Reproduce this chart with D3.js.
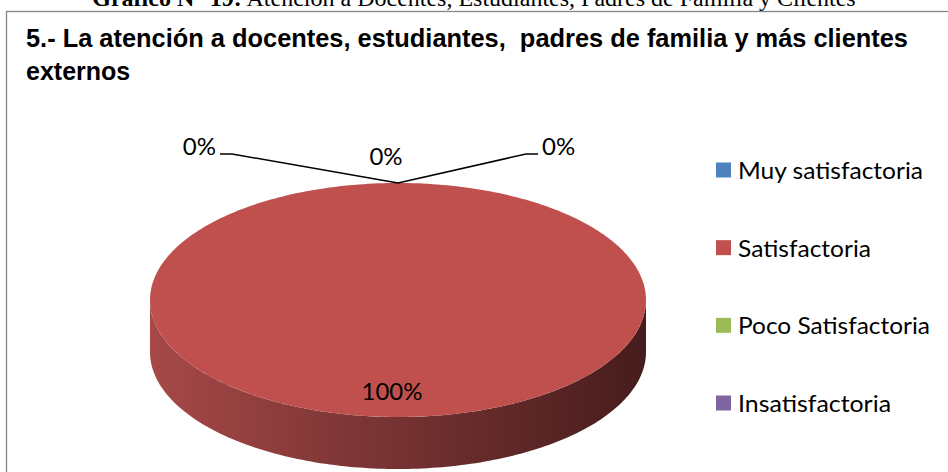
<!DOCTYPE html>
<html>
  <head>
    <meta charset="utf-8">
    <title>Atención a clientes</title>
    <style>
      body { margin: 0; background: #fff; }
      svg { display: block; }
      .caption { font-family: "Liberation Serif", "Times New Roman", serif; font-size: 24px; fill: #000; }
      .title { font-family: "Liberation Sans Narrow", "Arial Narrow", sans-serif; font-weight: bold; font-size: 25px; fill: #000; white-space: pre; }
      .lbl, .legend text { font-family: Lato, "Open Sans", sans-serif; font-size: 24px; fill: #000; }
    </style>
  </head>
  <body>
    <div id="chart"></div>
    <script src="https://cdn.jsdelivr.net/npm/d3@7"></script>
    <script>

    // data
    var categories = ['Muy satisfactoria', 'Satisfactoria', 'Poco Satisfactoria', 'Insatisfactoria']
    var values = [0, 100, 0, 0]
    var colors = ['#4F81BD', '#C0504D', '#9BBB59', '#8064A2']
    var captionBold = 'Gráfico N° 19:'
    var captionRest = ' Atención a Docentes, Estudiantes, Padres de Familia y Clientes'
    var titleLines = ['5.- La atención a docentes, estudiantes,  padres de familia y más clientes', 'externos']

    var width = 948,
        height = 472,
        cx = 398, cy = 300, rx = 248, ry = 117, depth = 52

    var svg = d3.select('#chart').append('svg')
      .attr('width', width)
      .attr('height', height)

    // side gradient of the 3d pie
    var defs = svg.append('defs')
    var grad = defs.append('linearGradient').attr('id', 'side')
      .attr('x1', '0%').attr('x2', '100%').attr('y1', '0%').attr('y2', '0%')
    grad.append('stop').attr('offset', '0%').attr('stop-color', '#a64947')
    grad.append('stop').attr('offset', '45%').attr('stop-color', '#7a3434')
    grad.append('stop').attr('offset', '100%').attr('stop-color', '#471c1c')

    // caption from the document, cut at the top like in the source page
    var cap = svg.append('text').attr('class', 'caption')
      .attr('x', width / 2).attr('y', 6).attr('text-anchor', 'middle')
    cap.append('tspan').attr('font-weight', 'bold').text(captionBold)
    cap.append('tspan').text(captionRest)

    // chart frame (right/bottom edges lie off the page)
    svg.append('rect')
      .attr('x', 6.5).attr('y', 11.5)
      .attr('width', 1000).attr('height', 1000)
      .attr('fill', 'none').attr('stroke', '#868686').attr('stroke-width', 1.3)

    svg.selectAll('.title').data(titleLines).enter()
      .append('text').attr('class', 'title')
      .attr('x', 26)
      .attr('y', function(d, i) { return 47 + i * 33 })
      .text(function(d) { return d })
      .each(function(d, i) { if (i == 0) d3.select(this).attr('textLength', 882).attr('lengthAdjust', 'spacingAndGlyphs') })

    // pie angles from d3, then projected onto an ellipse
    var pie = d3.pie().sort(null)
    var slices = pie(values)

    function pt(a, dy) {
      return [cx + rx * Math.sin(a), cy - ry * Math.cos(a) + (dy || 0)]
    }
    function arcPts(a0, a1, dy) {
      var n = Math.max(2, Math.ceil((a1 - a0) / 0.02)), out = []
      for (var k = 0; k <= n; k++) out.push(pt(a0 + (a1 - a0) * k / n, dy))
      return out
    }
    var line = d3.line()

    var g = svg.append('g')

    // side walls (front half only)
    slices.forEach(function(s, i) {
      var a0 = Math.max(s.startAngle, Math.PI / 2),
          a1 = Math.min(s.endAngle, 3 * Math.PI / 2)
      if (a1 <= a0) return
      var top = arcPts(a0, a1, 0),
          bot = arcPts(a0, a1, depth).reverse()
      g.append('path')
        .attr('d', line(top.concat(bot)) + 'Z')
        .attr('fill', 'url(#side)')
    })

    // top faces
    slices.forEach(function(s, i) {
      if (s.endAngle - s.startAngle <= 0) return
      var p = arcPts(s.startAngle, s.endAngle, 0)
      var full = s.endAngle - s.startAngle >= 2 * Math.PI - 1e-6
      if (!full) p = [[cx, cy]].concat(p)
      g.append('path')
        .attr('d', line(p) + 'Z')
        .attr('fill', colors[i])
    })

    // data labels
    var fmt = function(v) { return Math.round(v / d3.sum(values) * 100) + '%' }
    // label offsets relative to the slice anchor (layout only)
    var zeroOffsets = { 0: [-178, -29], 2: [0, -18], 3: [140, -29] }

    slices.forEach(function(s, i) {
      var mid = (s.startAngle + s.endAngle) / 2
      if (s.value > 0) {
        var p = [cx, cy - 0.68 * ry * Math.cos(mid)]
        svg.append('text').attr('class', 'lbl')
          .attr('x', p[0] - 6).attr('y', p[1] + 20)
          .attr('text-anchor', 'middle')
          .text(fmt(s.value))
        return
      }
      var a = pt(mid, 0), off = zeroOffsets[i]
      var lx = a[0] + off[0], ly = a[1] + off[1]
      if (off[0] != 0) {
        var dir = off[0] < 0 ? 1 : -1
        svg.append('path')
          .attr('d', line([[lx, ly], [lx + dir * 12, ly], a]))
          .attr('fill', 'none').attr('stroke', '#000').attr('stroke-width', 1.5)
        svg.append('text').attr('class', 'lbl')
          .attr('x', lx - dir * 4).attr('y', ly + 1)
          .attr('text-anchor', off[0] < 0 ? 'end' : 'start')
          .text(fmt(s.value))
      } else {
        svg.append('text').attr('class', 'lbl')
          .attr('x', a[0] - 12).attr('y', a[1] + off[1])
          .attr('text-anchor', 'middle')
          .text(fmt(s.value))
      }
    })

    // legend
    var legendY = d3.scalePoint().domain(categories).range([170, 403])
    var legendW = [185, 133, 192, 153]
    var legend = svg.append('g').attr('class', 'legend')
      .selectAll('g').data(categories).enter().append('g')
      .attr('transform', function(d) { return 'translate(716,' + legendY(d) + ')' })
    legend.append('rect')
      .attr('x', 0).attr('y', -7.5).attr('width', 15).attr('height', 15)
      .attr('fill', function(d, i) { return colors[i] })
    legend.append('text')
      .attr('x', 22).attr('y', 9)
      .attr('textLength', function(d, i) { return legendW[i] })
      .attr('lengthAdjust', 'spacingAndGlyphs')
      .text(function(d) { return d })

    </script>
  </body>
</html>
